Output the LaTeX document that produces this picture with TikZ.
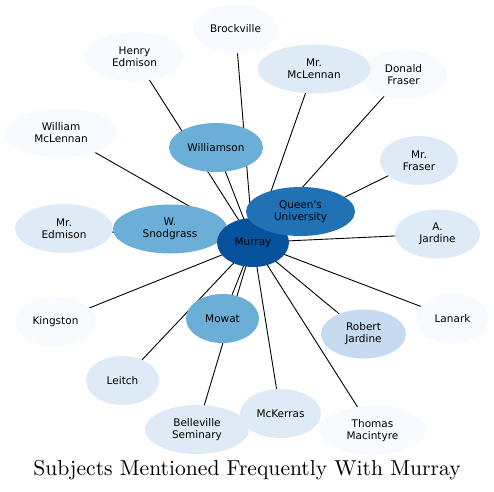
\documentclass[tikz,border=0pt]{standalone}
\usepackage{fontspec}
\newfontfamily\nodefont{DejaVu Sans}
\newfontfamily\titlefont{lmroman10-regular.otf}
\usetikzlibrary{shapes.geometric}
\pgfdeclarelayer{background}
\pgfsetlayers{background,main}
\definecolor{cA}{RGB}{247,251,255}
\definecolor{cB}{RGB}{222,235,247}
\definecolor{cC}{RGB}{198,219,239}
\definecolor{cD}{RGB}{107,174,214}
\definecolor{cE}{RGB}{33,113,181}
\definecolor{cF}{RGB}{8,81,156}
\tikzset{
  leaf/.style={ellipse, draw=none, minimum height=49pt, inner sep=0pt, align=center,
    font=\nodefont\fontsize{10.5}{12}\selectfont, text=black},
  link/.style={draw=black, line width=0.9pt}
}
\begin{document}
\begin{tikzpicture}[x=1pt,y=-1pt]
\useasboundingbox (0,0) rectangle (494,491);
% lightest
\node[leaf, fill=cA, minimum width=85pt] (brock) at (235.5,29) {Brockville};
\node[leaf, fill=cA, minimum width=99pt] (henry) at (134.5,56.5) {Henry\\Edmison};
\node[leaf, fill=cA, minimum width=87pt] (donald) at (403.5,74.5) {Donald\\Fraser};
\node[leaf, fill=cA, minimum width=113pt] (william) at (61,133) {William\\McLennan};
\node[leaf, fill=cA, minimum width=81pt] (kingston) at (55.5,321.5) {Kingston};
\node[leaf, fill=cA, minimum width=73pt] (lanark) at (452.5,318.5) {Lanark};
\node[leaf, fill=cA, minimum width=107pt] (thomas) at (372.5,430.5) {Thomas\\Macintyre};
% light
\node[leaf, fill=cB, minimum width=113pt] (mclennan) at (314,69) {Mr.\\McLennan};
\node[leaf, fill=cB, minimum width=78pt] (mfraser) at (419,160.5) {Mr.\\Fraser};
\node[leaf, fill=cB, minimum width=98pt] (medmison) at (64,228.5) {Mr.\\Edmison};
\node[leaf, fill=cB, minimum width=85pt] (ajardine) at (437.5,234) {A.\\Jardine};
\node[leaf, fill=cB, minimum width=73pt] (leitch) at (122.5,380.5) {Leitch};
\node[leaf, fill=cB, minimum width=81pt] (mckerras) at (280.5,413.5) {McKerras};
\node[leaf, fill=cB, minimum width=104pt] (belle) at (197,429.5) {Belleville\\Seminary};
\node[leaf, fill=cC, minimum width=85pt] (robert) at (363.5,334) {Robert\\Jardine};
% mid
\node[leaf, fill=cD, minimum width=94pt] (williamson) at (216,147.5) {Williamson};
\node[leaf, fill=cD, minimum width=114pt] (snod) at (170,229) {W.\\Snodgrass};
\node[leaf, fill=cD, minimum width=73pt] (mowat) at (222.5,318.5) {Mowat};
% dark
\node[leaf, fill=cF, minimum width=72pt] (murray) at (253,242.5) {Murray};
\node[leaf, fill=cE, minimum width=109pt] (queens) at (300.5,211.5) {Queen's\\University};
% title
\node[font=\titlefont\fontsize{21.6}{25}\selectfont, anchor=base, inner sep=0pt] (title) at (247,475) {Subjects Mentioned Frequently With Murray};
\begin{pgfonlayer}{background}
\foreach \n in {brock,henry,donald,william,kingston,lanark,thomas,mclennan,mfraser,medmison,ajardine,leitch,mckerras,belle,robert,williamson,snod,mowat,queens}
  \draw[link] (murray.center) -- (\n.center);
\end{pgfonlayer}
\end{tikzpicture}
\end{document}
